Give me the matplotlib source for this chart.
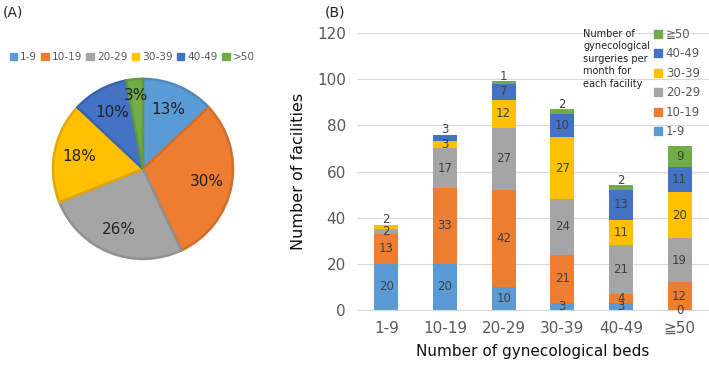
import numpy as np
import matplotlib.pyplot as plt
from matplotlib.patches import Patch

# surgery-count groups (colours follow Excel defaults)
groups = ['1-9', '10-19', '20-29', '30-39', '40-49', '≧50']
pie_labels = ['1-9', '10-19', '20-29', '30-39', '40-49', '>50']
colors = ['#5B9BD5', '#ED7D31', '#A5A5A5', '#FFC000', '#4472C4', '#70AD47']

# (A) share of facilities by surgeries per month, %
pie_share = [13, 30, 26, 18, 10, 3]

# (B) facilities by number of gynecological beds
beds = ['1-9', '10-19', '20-29', '30-39', '40-49', '≧50']
s_1_9 = [20, 20, 10, 3, 3, 0]
s_10_19 = [13, 33, 42, 21, 4, 12]
s_20_29 = [2, 17, 27, 24, 21, 19]
s_30_39 = [2, 3, 12, 27, 11, 20]
s_40_49 = [0, 3, 7, 10, 13, 11]
s_50 = [0, 0, 1, 2, 2, 9]
stack = [s_1_9, s_10_19, s_20_29, s_30_39, s_40_49, s_50]


def darker(c, f=0.88):
    r, g, b = [int(c[i:i + 2], 16) / 255 for i in (1, 3, 5)]
    return (r * f, g * f, b * f)


fig = plt.figure(figsize=(7.09, 3.68), dpi=100)
txt = '#404040'

# ---- (A) pie ----
ax1 = fig.add_axes([143 / 709 - 0.127, 0.541 - 0.2446, 0.254, 0.4892])
wedges, _ = ax1.pie(pie_share, colors=colors, startangle=90, counterclock=False,
                    wedgeprops=dict(linewidth=1.8))
for w, c in zip(wedges, colors):
    w.set_edgecolor(darker(c))
cum = 0
for v in pie_share:
    ang = np.deg2rad(90 - (cum + v / 2) * 3.6)
    r = 0.72 if v > 5 else 0.82
    ax1.text(r * np.cos(ang), r * np.sin(ang), f'{v}%', ha='center', va='center',
             fontsize=11, color='#222222')
    cum += v
ax1.set_xlim(-1.0, 1.0)
ax1.set_ylim(-1.0, 1.0)
ax1.set_aspect('equal')

fig.legend(handles=[Patch(color=c, label=l) for c, l in zip(colors, pie_labels)],
           loc='center left', bbox_to_anchor=(0.0, 0.845), ncol=6, frameon=False,
           fontsize=7.6, handlelength=0.7, handleheight=0.7, handletextpad=0.3,
           columnspacing=0.4, labelcolor='#595959')
fig.text(0.004, 0.966, '(A)', fontsize=10, va='center', color='#222222')

# ---- (B) stacked bars ----
ax2 = fig.add_axes([357 / 709, 58 / 368, 352 / 709, 277 / 368])
x = np.arange(len(beds))
bottom = np.zeros(len(beds))
tops = np.sum(stack, axis=0)
for k, vals in enumerate(stack):
    vals = np.array(vals)
    ax2.bar(x, vals, 0.41, bottom=bottom, color=colors[k], zorder=2)
    for i, v in enumerate(vals):
        show = v > 0 or (k == 0 and i == 5)
        if not show:
            continue
        is_top = bottom[i] + v == tops[i]
        if is_top and v <= 3:
            y = tops[i] + 2.2
        else:
            y = bottom[i] + v / 2
        ax2.text(x[i], y, str(v), ha='center', va='center', fontsize=8.5, color=txt,
                 zorder=3)
    bottom += vals

ax2.set_xlim(-0.5, 5.5)
ax2.set_ylim(0, 120)
ax2.set_yticks(range(0, 121, 20))
ax2.set_xticks(x)
ax2.set_xticklabels(beds)
ax2.grid(axis='y', color='#d9d9d9', linewidth=0.8, zorder=0)
for s in ['top', 'right', 'left']:
    ax2.spines[s].set_visible(False)
ax2.spines['bottom'].set_color('#d9d9d9')
ax2.tick_params(length=0, labelsize=11, colors='#595959', pad=8)
ax2.set_ylabel('Number of facilities', fontsize=11.5, color='#111111', labelpad=8)
ax2.set_xlabel('Number of gynecological beds', fontsize=11, color='#111111', labelpad=6)

fig.text(325 / 709, 0.966, '(B)', fontsize=10, va='center', color='#222222')
fig.text(583 / 709, 1 - 29 / 368, 'Number of\ngynecological\nsurgeries per\nmonth for\neach facility',
         fontsize=7, va='top', ha='left', color='#222222', linespacing=1.3)
ax2.legend(handles=[Patch(color=c, label=l) for c, l in zip(colors[::-1], groups[::-1])],
           loc='upper left', bbox_to_anchor=(654 / 709, 1 - 28 / 368),
           bbox_transform=fig.transFigure, frameon=False, fontsize=8.5,
           handlelength=0.7, handleheight=0.7, handletextpad=0.3, labelspacing=0.55,
           labelcolor='#595959', borderaxespad=0, borderpad=0)

fig.savefig('out.png', dpi=100)
